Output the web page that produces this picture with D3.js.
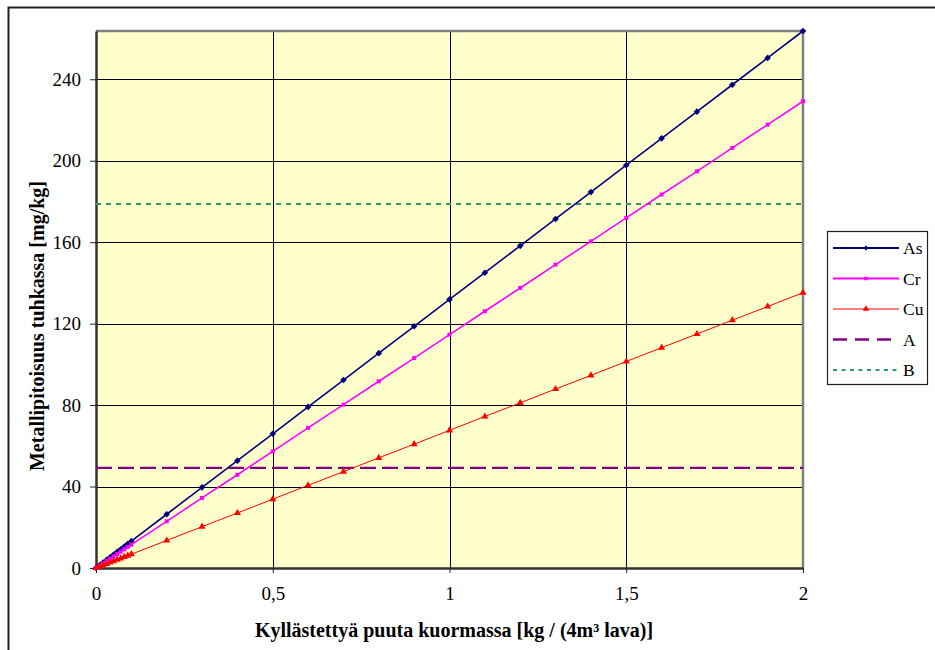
<!DOCTYPE html>
<html>
<head>
<meta charset="utf-8">
<script src="https://cdn.jsdelivr.net/npm/d3@7"></script>
<style>
  html, body { margin: 0; padding: 0; background: #fff; }
  svg { display: block; }
  svg text { font-family: "Liberation Serif", "DejaVu Serif", serif; }
</style>
</head>
<body>
<svg id="chart" width="935" height="650"></svg>
<script>
// Load of treated wood per 4 m³ pallet [kg]
const loads = [0, 0.01, 0.02, 0.03, 0.04, 0.05, 0.06, 0.07, 0.08, 0.09, 0.1,
  0.2, 0.3, 0.4, 0.5, 0.6, 0.7, 0.8, 0.9, 1.0,
  1.1, 1.2, 1.3, 1.4, 1.5, 1.6, 1.7, 1.8, 1.9, 2.0];

// Metal content in ash [mg/kg]
const asValues = [0, 1.32, 2.64, 3.96, 5.27, 6.59, 7.91, 9.23, 10.55, 11.87, 13.19,
  26.4, 39.6, 52.7, 65.9, 79.1, 92.3, 105.5, 118.7, 131.9,
  145.0, 158.2, 171.4, 184.6, 197.8, 211.0, 224.1, 237.3, 250.5, 263.7];
const crValues = [0, 1.15, 2.29, 3.44, 4.58, 5.73, 6.88, 8.02, 9.17, 10.31, 11.46,
  22.9, 34.4, 45.8, 57.3, 68.8, 80.2, 91.7, 103.1, 114.6,
  126.1, 137.5, 149.0, 160.4, 171.9, 183.4, 194.8, 206.3, 217.7, 229.2];
const cuValues = [0, 0.68, 1.35, 2.03, 2.70, 3.38, 4.06, 4.73, 5.41, 6.08, 6.76,
  13.5, 20.3, 27.0, 33.8, 40.6, 47.3, 54.1, 60.8, 67.6,
  74.4, 81.1, 87.9, 94.6, 101.4, 108.2, 114.9, 121.7, 128.4, 135.2];

// Limit values A and B [mg/kg]
const limitA = 49.2;
const limitB = 178.8;

const xTicks = [0, 0.5, 1, 1.5, 2];
const xTickLabels = ["0", "0,5", "1", "1,5", "2"];
const yTicks = [0, 40, 80, 120, 160, 200, 240];

const xTitle = "Kyllästettyä puuta kuormassa [kg / (4m³ lava)]";
const yTitle = "Metallipitoisuus tuhkassa  [mg/kg]";

const svg = d3.select("#chart");

const plot = { left: 96, right: 803, top: 31, bottom: 568 };

const x = d3.scaleLinear().domain([0, 2]).range([plot.left, plot.right]);
const y = d3.scaleLinear().domain([0, 263.7]).range([plot.bottom, plot.top]);

// Chart frame
svg.append("rect")
  .attr("x", 8.5).attr("y", 7.5)
  .attr("width", 940).attr("height", 660)
  .attr("fill", "none").attr("stroke", "#222").attr("stroke-width", 2);

// Plot background
svg.append("rect")
  .attr("x", plot.left).attr("y", plot.top)
  .attr("width", plot.right - plot.left).attr("height", plot.bottom - plot.top)
  .attr("fill", "#FFFFCC");

// Gridlines
const grid = svg.append("g");
grid.selectAll("line.h").data(yTicks.filter(d => d > 0)).join("line")
  .attr("x1", plot.left).attr("x2", plot.right)
  .attr("y1", d => Math.round(y(d)) + 0.5).attr("y2", d => Math.round(y(d)) + 0.5)
  .attr("stroke", "#000").attr("stroke-width", 1);
grid.selectAll("line.v").data(xTicks.filter(d => d > 0 && d < 2)).join("line")
  .attr("y1", plot.top).attr("y2", plot.bottom)
  .attr("x1", d => Math.round(x(d)) + 0.5).attr("x2", d => Math.round(x(d)) + 0.5)
  .attr("stroke", "#000").attr("stroke-width", 1);

// Plot border (top / right)
svg.append("path")
  .attr("d", `M${plot.left},${plot.top}H${plot.right}V${plot.bottom}`)
  .attr("fill", "none").attr("stroke", "#808080").attr("stroke-width", 2.5);

// Axes
const xAxis = d3.axisBottom(x).tickValues(xTicks)
  .tickFormat((d, i) => xTickLabels[i]).tickSize(5).tickSizeOuter(0).tickPadding(14);
const gx = svg.append("g").attr("transform", `translate(0,${plot.bottom})`).call(xAxis);
const yAxis = d3.axisLeft(y).tickValues(yTicks).tickSize(6).tickSizeOuter(0).tickPadding(9);
const gy = svg.append("g").attr("transform", `translate(${plot.left},0)`).call(yAxis);
[gx, gy].forEach(g => {
  g.attr("font-family", null).attr("font-size", null);
  g.select(".domain").attr("stroke", "#333").attr("stroke-width", 2.5);
  g.selectAll(".tick line").attr("stroke", "#222");
  g.selectAll(".tick text").style("font-size", "19px").attr("fill", "#000");
});

// Limit lines
const limitLine = (val, color, dash, width) =>
  svg.append("line")
    .attr("x1", x(0)).attr("x2", x(2))
    .attr("y1", y(val)).attr("y2", y(val))
    .attr("stroke", color).attr("stroke-width", width)
    .attr("stroke-dasharray", dash);
limitLine(limitA, "#800080", "16,6", 2.2);
limitLine(limitB, "#339966", "5,5", 2);

// Data series
const series = [
  { name: "As", values: asValues, color: "#000080", width: 1.6, marker: d3.symbolDiamond2, size: 28 },
  { name: "Cr", values: crValues, color: "#FF00FF", width: 1.6, marker: d3.symbolSquare, size: 16 },
  { name: "Cu", values: cuValues, color: "#FF0000", width: 1, marker: d3.symbolTriangle, size: 22 }
];

const line = d3.line().x(d => x(d[0])).y(d => y(d[1]));

series.forEach(s => {
  const pts = loads.map((l, i) => [l, s.values[i]]);
  svg.append("path").datum(pts)
    .attr("d", line)
    .attr("fill", "none").attr("stroke", s.color).attr("stroke-width", s.width);
  svg.append("g").selectAll("path").data(pts).join("path")
    .attr("transform", d => `translate(${x(d[0])},${y(d[1])})`)
    .attr("d", d3.symbol(s.marker, s.size))
    .attr("fill", s.color);
});

// Axis titles
svg.append("text")
  .attr("x", 454).attr("y", 637)
  .attr("text-anchor", "middle")
  .style("font-size", "20px").attr("font-weight", "bold")
  .text(xTitle);

svg.append("text")
  .attr("transform", `translate(44,326) rotate(-90)`)
  .attr("text-anchor", "middle")
  .style("font-size", "20px").attr("font-weight", "bold")
  .text(yTitle);

// Legend
const legend = svg.append("g");
legend.append("rect")
  .attr("x", 827.5).attr("y", 231.5).attr("width", 100).attr("height", 153)
  .attr("fill", "#fff").attr("stroke", "#222").attr("stroke-width", 1.2);

const legendItems = [
  { name: "As", color: "#000080", width: 2, dash: null, marker: d3.symbolDiamond2, size: 16 },
  { name: "Cr", color: "#FF00FF", width: 2, dash: null, marker: d3.symbolSquare, size: 12 },
  { name: "Cu", color: "#FF0000", width: 1.2, dash: null, marker: d3.symbolTriangle, size: 18 },
  { name: "A", color: "#800080", width: 2.5, dash: "14,8", marker: null },
  { name: "B", color: "#339966", width: 2, dash: "4,4.5", marker: null }
];

legendItems.forEach((it, i) => {
  const ly = 248 + i * 30.5;
  legend.append("line")
    .attr("x1", 833).attr("x2", 899).attr("y1", ly).attr("y2", ly)
    .attr("stroke", it.color).attr("stroke-width", it.width)
    .attr("stroke-dasharray", it.dash);
  if (it.marker) {
    legend.append("path")
      .attr("transform", `translate(866,${ly})`)
      .attr("d", d3.symbol(it.marker, it.size))
      .attr("fill", it.color);
  }
  legend.append("text")
    .attr("x", 903).attr("y", ly + 6)
    .style("font-size", "17.5px")
    .text(it.name);
});
</script>
</body>
</html>
